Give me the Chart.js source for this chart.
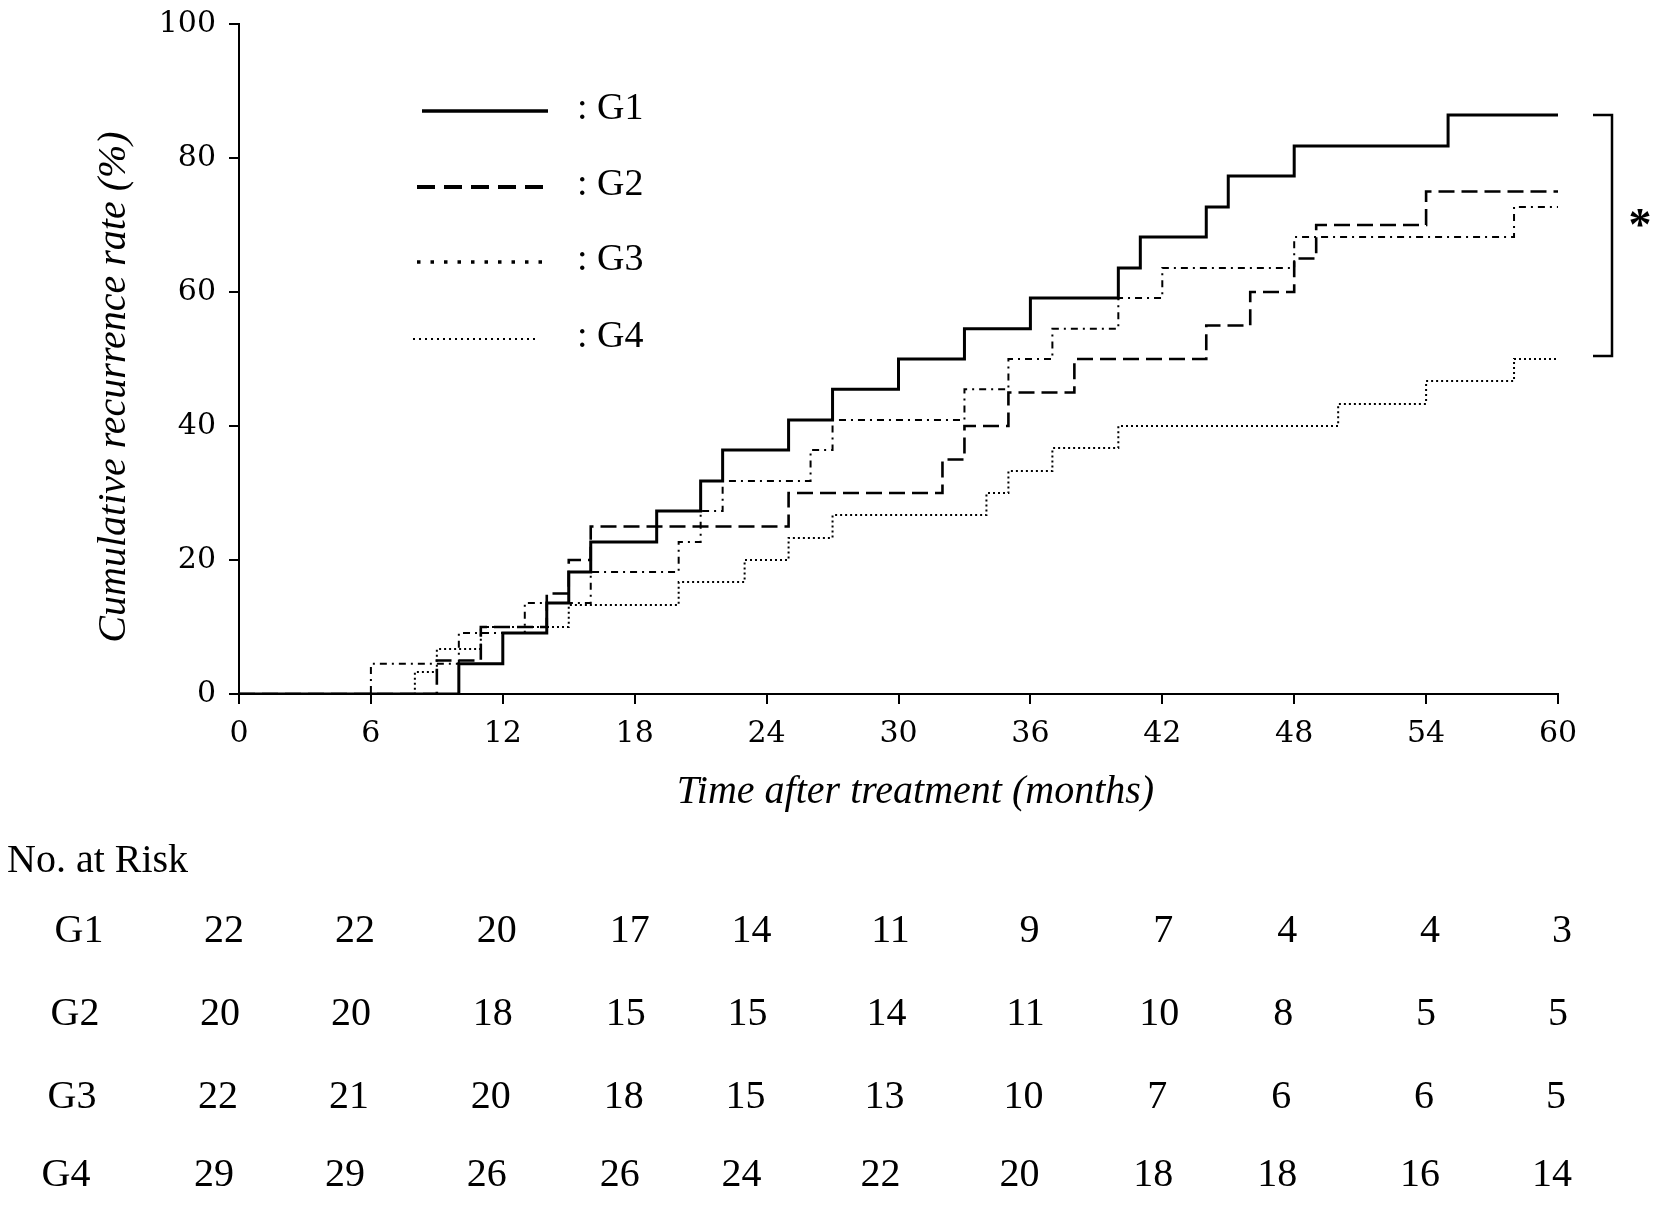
<!DOCTYPE html>
<html>
<head>
<meta charset="utf-8">
<script src="https://cdn.jsdelivr.net/npm/chart.js@4.4.1/dist/chart.umd.min.js"></script>
<style>
  html, body { margin: 0; padding: 0; background: #fff; }
  #wrap { position: relative; width: 1662px; height: 1213px; }
</style>
</head>
<body>
<div id="wrap"><canvas id="km"></canvas></div>
<script>
// months at which each curve steps up, and the cumulative rate (%) after the step
var g1Months = [0, 10, 12, 14, 15, 16, 19, 21, 22, 25, 27, 30, 33, 36, 40, 41, 44, 45, 48, 55, 60];
var g1Rates  = [0, 4.5, 9.1, 13.6, 18.2, 22.7, 27.3, 31.8, 36.4, 40.9, 45.5, 50, 54.5, 59.1, 63.6, 68.2, 72.7, 77.3, 81.8, 86.4, 86.4];

var g2Months = [0, 9, 11, 14, 15, 16, 25, 32, 33, 35, 38, 44, 46, 48, 49, 54, 60];
var g2Rates  = [0, 5, 10, 15, 20, 25, 30, 35, 40, 45, 50, 55, 60, 65, 70, 75, 75];

var g3Months = [0, 6, 10, 13, 16, 20, 21, 22, 26, 27, 33, 35, 37, 40, 42, 48, 58, 60];
var g3Rates  = [0, 4.5, 9.1, 13.6, 18.2, 22.7, 27.3, 31.8, 36.4, 40.9, 45.5, 50, 54.5, 59.1, 63.6, 68.2, 72.7, 72.7];

var g4Months = [0, 8, 9, 11, 15, 20, 23, 25, 27, 34, 35, 37, 40, 50, 54, 58, 60];
var g4Rates  = [0, 3.3, 6.7, 10, 13.3, 16.7, 20, 23.3, 26.7, 30, 33.3, 36.7, 40, 43.3, 46.7, 50, 50];

var groupNames = ['G1', 'G2', 'G3', 'G4'];

// number at risk table
var riskMonths = [0, 6, 12, 18, 24, 30, 36, 42, 48, 54, 60];
var riskG1 = [22, 22, 20, 17, 14, 11, 9, 7, 4, 4, 3];
var riskG2 = [20, 20, 18, 15, 15, 14, 11, 10, 8, 5, 5];
var riskG3 = [22, 21, 20, 18, 15, 13, 10, 7, 6, 6, 5];
var riskG4 = [29, 29, 26, 26, 24, 22, 20, 18, 18, 16, 14];

var serif = '"Liberation Serif", "Times New Roman", serif';
var tickFont = '"DejaVu Serif", serif';

function toPoints(months, rates) {
  return months.map(function (m, i) { return { x: m, y: rates[i] }; });
}

// line styles: plot dash / legend dash
var styles = [
  { width: 3, dash: [], legendWidth: 3.5, legendDash: [] },
  { width: 2.6, dash: [16, 7], legendWidth: 4, legendDash: [18, 9] },
  { width: 2, dash: [7, 5, 2, 5], legendWidth: 3.5, legendDash: [3.5, 10] },
  { width: 2, dash: [2, 3], legendWidth: 1.8, legendDash: [2, 4] }
];

var extras = {
  id: 'extras',
  afterDraw: function (chart) {
    var ctx = chart.ctx;
    var xs = chart.scales.x, ys = chart.scales.y;
    var area = chart.chartArea;
    ctx.save();
    ctx.fillStyle = '#000';
    ctx.strokeStyle = '#000';

    // legend
    var legendY = [111, 187, 262, 339];
    var legendX0 = [422, 417, 417, 413];
    var legendX1 = [548, 552, 542, 538];
    ctx.font = '38px ' + serif;
    ctx.textBaseline = 'middle';
    ctx.textAlign = 'left';
    for (var i = 0; i < 4; i++) {
      ctx.beginPath();
      ctx.lineWidth = styles[i].legendWidth;
      ctx.setLineDash(styles[i].legendDash);
      ctx.moveTo(legendX0[i], legendY[i]);
      ctx.lineTo(legendX1[i], legendY[i]);
      ctx.stroke();
      ctx.fillText(': ' + groupNames[i], 577, legendY[i] - 2);
    }
    ctx.setLineDash([]);

    // significance bracket between G1 and G4 end points
    var bTop = ys.getPixelForValue(g1Rates[g1Rates.length - 1]);
    var bBot = ys.getPixelForValue(g4Rates[g4Rates.length - 1]) - 3;
    ctx.lineWidth = 2.5;
    ctx.beginPath();
    ctx.moveTo(1593, bTop);
    ctx.lineTo(1612, bTop);
    ctx.lineTo(1612, bBot);
    ctx.lineTo(1593, bBot);
    ctx.stroke();
    ctx.font = 'bold 46px ' + serif;
    ctx.textAlign = 'center';
    ctx.fillText('*', 1640, 228);

    // axis titles
    ctx.font = 'italic 40px ' + serif;
    ctx.textAlign = 'center';
    ctx.textBaseline = 'middle';
    ctx.fillText('Time after treatment (months)', (area.left + area.right) / 2 + 17, 792);
    ctx.save();
    ctx.translate(114, 387);
    ctx.rotate(-Math.PI / 2);
    ctx.fillText('Cumulative recurrence rate (%)', 0, 0);
    ctx.restore();

    // number at risk
    ctx.font = '40px ' + serif;
    ctx.textBaseline = 'alphabetic';
    ctx.textAlign = 'left';
    ctx.fillText('No. at Risk', 7, 872);
    var rows = [riskG1, riskG2, riskG3, riskG4];
    var rowBase = [942, 1025, 1108, 1186];
    var labelX = [79, 75, 72, 66];
    var colShift = [-20, -21, -11, -10, -20, -13, -6, -4, -12, -1, -1];
    var rowShift = [5, 1, -1, -5];
    for (var r = 0; r < rows.length; r++) {
      ctx.textAlign = 'center';
      ctx.fillText(groupNames[r], labelX[r], rowBase[r]);
      for (var c = 0; c < riskMonths.length; c++) {
        var px = xs.getPixelForValue(riskMonths[c]) + colShift[c] + rowShift[r];
        ctx.fillText(String(rows[r][c]), px, rowBase[r]);
      }
    }
    ctx.restore();
  }
};

var datasets = [
  toPoints(g1Months, g1Rates),
  toPoints(g2Months, g2Rates),
  toPoints(g3Months, g3Rates),
  toPoints(g4Months, g4Rates)
].map(function (pts, i) {
  return {
    label: groupNames[i],
    data: pts,
    stepped: true,
    borderColor: '#000',
    borderWidth: styles[i].width,
    borderDash: styles[i].dash,
    pointRadius: 0,
    fill: false
  };
});

new Chart(document.getElementById('km'), {
  type: 'line',
  data: { datasets: datasets },
  options: {
    responsive: true,
    maintainAspectRatio: false,
    animation: false,
    devicePixelRatio: 1,
    layout: { padding: { left: 0, top: 24, right: 104, bottom: 0 } },
    plugins: { legend: { display: false }, tooltip: { enabled: false } },
    scales: {
      x: {
        type: 'linear',
        min: 0,
        max: 60,
        afterFit: function (s) {
          s.height = 519;
          s.paddingLeft = 0; s.paddingRight = 0;
        },
        ticks: {
          stepSize: 6,
          padding: 12,
          color: '#000',
          font: { family: tickFont, size: 30 }
        },
        grid: { drawOnChartArea: false, drawTicks: true, tickLength: 10, color: '#000', lineWidth: 2 },
        border: { display: true, color: '#000', width: 2 }
      },
      y: {
        min: 0,
        max: 100,
        afterFit: function (s) {
          s.width = 239;
          s.paddingTop = 0; s.paddingBottom = 0;
        },
        ticks: {
          stepSize: 20,
          padding: 13,
          color: '#000',
          font: { family: tickFont, size: 30 }
        },
        grid: { drawOnChartArea: false, drawTicks: true, tickLength: 10, color: '#000', lineWidth: 2 },
        border: { display: true, color: '#000', width: 2 }
      }
    }
  },
  plugins: [extras]
});
</script>
</body>
</html>
